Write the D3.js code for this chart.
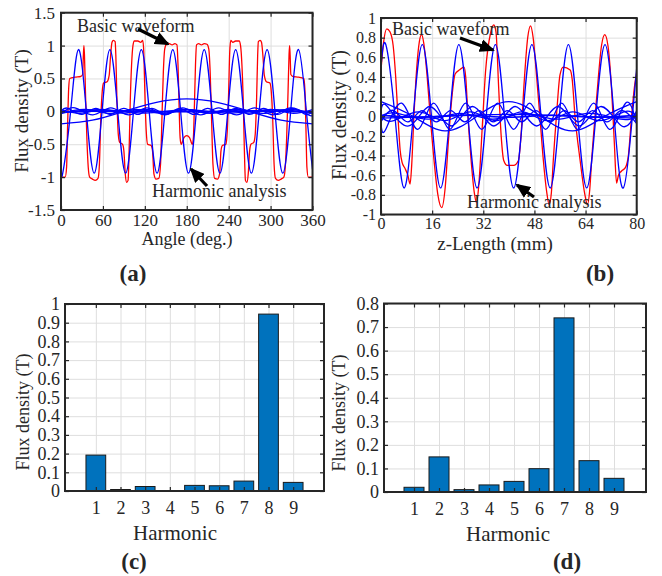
<!DOCTYPE html>
<html>
<head>
<meta charset="utf-8">
<script src="https://cdn.jsdelivr.net/npm/d3@7"></script>
<style>
body { margin: 0; background: #fff; }
text { font-family: "Liberation Serif", "Times New Roman", serif; fill: #262626; }
</style>
</head>
<body>
<svg id="fig" width="662" height="576"></svg>
<script>
// ---- data ----
var angleTicks = [0, 60, 120, 180, 240, 300, 360];
var fluxTicksA = [-1.5, -1, -0.5, 0, 0.5, 1, 1.5];
var zTicks = [0, 16, 32, 48, 64, 80];
var fluxTicksB = [-1, -0.8, -0.6, -0.4, -0.2, 0, 0.2, 0.4, 0.6, 0.8, 1];
var harmonics = [1, 2, 3, 4, 5, 6, 7, 8, 9];
var ampC = [0.192, 0.008, 0.024, 0.001, 0.03, 0.028, 0.053, 0.946, 0.046];
var ampD = [0.02, 0.149, 0.01, 0.03, 0.045, 0.099, 0.739, 0.133, 0.058];
var ticksC = [0, 0.1, 0.2, 0.3, 0.4, 0.5, 0.6, 0.7, 0.8, 0.9, 1];
var ticksD = [0, 0.1, 0.2, 0.3, 0.4, 0.5, 0.6, 0.7, 0.8];

// (a) basic waveform, angle (deg) vs flux density (T)
var redA = [[0,-1.0],[6,-1.0],[8,-0.85],[9.5,-0.2],[11,0.35],[12.5,0.5],[20,0.52],[28,0.53],[31,0.56],[32,0.85],[32.8,1.0],[33.6,0.85],[35,0.3],[37,-0.4],[39,-0.85],[41,-1.0],
  [45,-1.03],[49,-1.05],[53,-1.02],[55,-0.8],[57,-0.1],[59,0.3],[61,0.43],[66,0.45],[69,0.55],[71,0.85],[73,1.05],[75,1.08],[77.5,1.06],[78.5,0.85],[80,0.2],[82,-0.35],[84,-0.47],
  [88,-0.5],[90,-0.6],[92,-0.95],[94,-1.08],[96,-1.05],[97.5,-0.6],[99,0.1],[101,0.7],[103,1.0],[105,1.07],[110,1.07],[114,1.05],[117,1.08],[118.5,0.9],[120,0.3],[122,-0.3],[124,-0.5],
  [129,-0.52],[131,-0.6],[133,-0.95],[136,-1.03],[140,-1.02],[142.5,-0.8],[144.5,-0.1],[146.5,0.6],[148.5,0.95],[151,1.02],[155,1.03],[159,1.01],[163,1.03],[166,1.01],[167.5,0.7],[169,0.1],[170.5,-0.4],[172,-0.5],[176,-0.4],[180,-0.37],
  [184,-0.4],[188,-0.5],[189.5,-0.4],[191,0.1],[192.5,0.7],[194,1.01],[197,1.03],[201,1.01],[205,1.03],[209,1.02],[211.5,0.95],[213.5,0.6],[215.5,-0.1],[217.5,-0.8],[220,-1.02],[224,-1.03],[227,-0.95],[229,-0.6],[231,-0.52],
  [236,-0.5],[238,-0.3],[240,0.3],[241.5,0.9],[243,1.08],[246,1.05],[250,1.07],[255,1.07],[257,1.0],[259,0.7],[261,0.1],[262.5,-0.6],[264,-1.05],[266,-1.08],[268,-0.95],[270,-0.6],[272,-0.5],
  [276,-0.47],[278,-0.35],[280,0.2],[281.5,0.85],[282.5,1.06],[285,1.08],[287,1.05],[289,0.85],[291,0.55],[294,0.45],[299,0.43],[301,0.3],[303,-0.1],[305,-0.8],[307,-1.02],[311,-1.05],[315,-1.03],
  [319,-1.0],[321,-0.85],[323,-0.4],[325,0.3],[326.4,0.85],[327.2,1.0],[328,0.85],[329,0.56],[332,0.53],[340,0.52],[347.5,0.5],[349,0.35],[350.5,-0.2],[352,-0.85],[354,-1.0],[360,-1.0]];

// (a) harmonic components
var blueA8 = [[0,-0.88],[2.5,-0.94],[13.75,0],[25,0.94],[36.25,0],[47.5,-0.94],[58.75,0],[70,0.94],[81.25,0],[92.5,-0.94],[103.75,0],[115,0.94],[126.25,0],[137.5,-0.94],[148.75,0],[160,0.94],[171.25,0],
  [182.5,-0.94],[193.75,0],[205,0.94],[216.25,0],[227.5,-0.94],[238.75,0],[250,0.94],[261.25,0],[272.5,-0.94],[283.75,0],[295,0.94],[306.25,0],[317.5,-0.94],[328.75,0],[340,0.94],[351.25,0],[360,-0.88]];
var blueA1 = [[0,-0.19],[45,-0.134],[90,0],[135,0.134],[180,0.19],[225,0.134],[270,0],[315,-0.134],[360,-0.19]];
var blueA9 = [[0,0],[10,0.046],[30,-0.046],[50,0.046],[70,-0.046],[90,0.046],[110,-0.046],[130,0.046],[150,-0.046],[170,0.046],[190,-0.046],[210,0.046],[230,-0.046],[250,0.046],[270,-0.046],[290,0.046],[310,-0.046],[330,0.046],[350,-0.046],[360,0]];
var blueA7 = [[0,-0.041],[20,0.053],[45.7,-0.053],[71.4,0.053],[97.1,-0.053],[122.9,0.053],[148.6,-0.053],[174.3,0.053],[200,-0.053],[225.7,0.053],[251.4,-0.053],[277.1,0.053],[302.9,-0.053],[328.6,0.053],[354.3,-0.053],[360,-0.041]];
var blueA6 = [[0,0.028],[30,-0.028],[60,0.028],[90,-0.028],[120,0.028],[150,-0.028],[180,0.028],[210,-0.028],[240,0.028],[270,-0.028],[300,0.028],[330,-0.028],[360,0.028]];
var blueA5 = [[0,-0.03],[36,0.03],[72,-0.03],[108,0.03],[144,-0.03],[180,0.03],[216,-0.03],[252,0.03],[288,-0.03],[324,0.03],[360,-0.03]];
var blueA3 = [[0,-0.025],[60,0.025],[120,-0.025],[180,0.025],[240,-0.025],[300,0.025],[360,-0.025]];
var blueA2 = [[0,-0.009],[90,0.009],[180,-0.009],[270,0.009],[360,-0.009]];
var blueA4 = [[0,0.001],[360,0.001]];

// (b) basic waveform, z-length (mm) vs flux density (T)
var redB = [[0,0.47],[0.8,0.75],[1.8,0.89],[2.8,0.86],[3.8,0.72],[4.6,0.4],[5.3,0.0],[6.0,-0.35],[6.6,-0.47],[7.5,-0.53],[8.4,-0.6],[9.1,-0.69],[9.6,-0.5],[10.3,0.0],[11.2,0.5],[12.0,0.76],[12.7,0.83],
  [13.4,0.74],[14.4,0.42],[15.4,0.0],[16.6,-0.45],[17.8,-0.8],[19.0,-0.93],[20.1,-0.72],[21.1,-0.25],[22.2,0.2],[23.2,0.43],[24.5,0.47],[26.0,0.5],[26.5,0.4],[27.2,0.0],[28.2,-0.45],[29.2,-0.78],[29.9,-0.88],
  [30.6,-0.7],[31.7,-0.1],[32.7,0.45],[34.3,0.85],[35.3,0.93],[36.0,0.85],[36.8,0.3],[37.6,-0.2],[38.4,-0.45],[39.5,-0.5],[41.5,-0.5],[43.0,-0.45],[43.8,-0.2],[44.8,0.35],[45.9,0.8],[46.8,0.92],
  [47.6,0.8],[48.7,0.4],[49.7,0.0],[50.8,-0.45],[51.8,-0.76],[52.6,-0.9],[53.3,-0.78],[53.9,-0.45],[55.0,0.05],[56.0,0.42],[57.0,0.5],[59.2,0.47],[59.8,0.38],[60.7,0.0],[62.3,-0.45],[63.8,-0.8],
  [64.6,-0.9],[65.3,-0.75],[65.9,-0.45],[67.5,0.2],[69.0,0.72],[70.0,0.83],[71.0,0.72],[72.2,0.24],[73.0,-0.27],[73.7,-0.68],[74.3,-0.6],[75.2,-0.56],[76.5,-0.52],[77.4,-0.4],[78.4,0.0],[79.3,0.3],[80,0.45]];

// (b) harmonic components
var blueB7 = [[0,0.5],[1.5,0.73],[4.36,0],[7.21,-0.73],[10.07,0],[12.93,0.73],[15.79,0],[18.64,-0.73],[21.5,0],[24.36,0.73],[27.21,0],[30.07,-0.73],[32.93,0],[35.79,0.73],[38.64,0],[41.5,-0.73],
  [44.36,0],[47.21,0.73],[50.07,0],[52.93,-0.73],[55.79,0],[58.64,0.73],[61.5,0],[64.36,-0.73],[67.21,0],[70.07,0.73],[72.93,0],[75.79,-0.73],[78.64,0],[80,0.49]];
var blueB2 = [[0,0.149],[10,0],[20,-0.149],[30,0],[40,0.149],[50,0],[60,-0.149],[70,0],[80,0.149]];
var blueB8 = [[0,-0.078],[1.5,-0.133],[6.5,0.133],[11.5,-0.133],[16.5,0.133],[21.5,-0.133],[26.5,0.133],[31.5,-0.133],[36.5,0.133],[41.5,-0.133],[46.5,0.133],[51.5,-0.133],[56.5,0.133],[61.5,-0.133],[66.5,0.133],[71.5,-0.133],[76.5,0.133],[80,-0.078]];
var blueB6 = [[0,0.058],[2,0.099],[8.67,-0.099],[15.33,0.099],[22,-0.099],[28.67,0.099],[35.33,-0.099],[42,0.099],[48.67,-0.099],[55.33,0.099],[62,-0.099],[68.67,0.099],[75.33,-0.099],[80,0.058]];
var blueB9 = [[0,-0.055],[4,0.058],[8.44,-0.058],[12.89,0.058],[17.33,-0.058],[21.78,0.058],[26.22,-0.058],[30.67,0.058],[35.11,-0.058],[39.56,0.058],[44,-0.058],[48.44,0.058],[52.89,-0.058],[57.33,0.058],[61.78,-0.058],[66.22,0.058],[70.67,-0.058],[75.11,0.058],[79.56,-0.058],[80,-0.057]];
var blueB5 = [[0,0],[4,-0.045],[12,0.045],[20,-0.045],[28,0.045],[36,-0.045],[44,0.045],[52,-0.045],[60,0.045],[68,-0.045],[76,0.045],[80,0]];
var blueB4 = [[0,0],[5,0.03],[15,-0.03],[25,0.03],[35,-0.03],[45,0.03],[55,-0.03],[65,0.03],[75,-0.03],[80,0]];
var blueB3 = [[0,0.01],[13.33,-0.01],[26.67,0.01],[40,-0.01],[53.33,0.01],[66.67,-0.01],[80,0.01]];
var blueB1 = [[0,-0.02],[20,0],[40,0.02],[60,0],[80,-0.02]];

// ---- drawing ----
var svg = d3.select("#fig");
svg.append("rect").attr("width", 662).attr("height", 576).attr("fill", "#fff");

var defs = svg.append("defs");
defs.append("marker")
    .attr("id", "head")
    .attr("markerUnits", "userSpaceOnUse")
    .attr("markerWidth", 15).attr("markerHeight", 13)
    .attr("refX", 13).attr("refY", 6.5)
    .attr("orient", "auto")
  .append("path")
    .attr("d", "M0,0 L15,6.5 L0,13 Z")
    .attr("fill", "#000");

var fmt = function(v){ return String(Math.round(v * 10) / 10); };

function makeAxes(p) {
  var x = d3.scaleLinear().domain(p.xd).range([p.l, p.r]);
  var y = d3.scaleLinear().domain(p.yd).range([p.b, p.t]);
  var g = svg.append("g");

  // grid
  var gx = g.append("g").attr("transform", "translate(0," + p.b + ")")
      .call(d3.axisBottom(x).tickValues(p.xt).tickSize(-(p.b - p.t)).tickFormat(""));
  var gy = g.append("g").attr("transform", "translate(" + p.l + ",0)")
      .call(d3.axisLeft(y).tickValues(p.yt).tickSize(-(p.r - p.l)).tickFormat(""));
  [gx, gy].forEach(function(s){
    s.select(".domain").remove();
    s.selectAll("line").attr("stroke", "#dedede").attr("stroke-width", 1);
  });

  var clipId = "clip" + p.id;
  defs.append("clipPath").attr("id", clipId)
    .append("rect").attr("x", p.l).attr("y", p.t).attr("width", p.r - p.l).attr("height", p.b - p.t);
  var plot = g.append("g").attr("clip-path", "url(#" + clipId + ")");
  var over = g.append("g");

  function finish() {
    // ticks on all four sides, pointing inward
    var bottom = over.append("g").attr("transform", "translate(0," + p.b + ")")
        .call(d3.axisBottom(x).tickValues(p.xt).tickSize(-4).tickPadding(p.xpad).tickFormat(p.xf || fmt));
    var left = over.append("g").attr("transform", "translate(" + p.l + ",0)")
        .call(d3.axisLeft(y).tickValues(p.yt).tickSize(-4).tickPadding(p.ypad).tickFormat(fmt));
    var top = over.append("g").attr("transform", "translate(0," + p.t + ")")
        .call(d3.axisTop(x).tickValues(p.xt).tickSize(-4).tickFormat(""));
    var right = over.append("g").attr("transform", "translate(" + p.r + ",0)")
        .call(d3.axisRight(y).tickValues(p.yt).tickSize(-4).tickFormat(""));
    [bottom, left, top, right].forEach(function(s){
      s.select(".domain").remove();
      s.selectAll("line").attr("stroke", "#262626").attr("stroke-width", 1.2);
      s.attr("font-family", null).attr("font-size", null);
      s.selectAll("text").style("font-size", p.tickSize + "px").attr("fill", "#262626");
    });
    over.append("rect")
      .attr("x", p.l).attr("y", p.t).attr("width", p.r - p.l).attr("height", p.b - p.t)
      .attr("fill", "none").attr("stroke", "#262626").attr("stroke-width", 2);

    over.append("text").attr("x", p.xlx).attr("y", p.xly).attr("text-anchor", "middle")
      .style("font-size", p.xls + "px").text(p.xlabel);
    over.append("text").attr("transform", "translate(" + p.ylx + "," + p.yly + ") rotate(-90)")
      .attr("text-anchor", "middle").style("font-size", p.yls + "px").text("Flux density (T)");
    svg.append("text").attr("x", p.tagx).attr("y", p.tagy).attr("text-anchor", "middle")
      .style("font-size", "23px").style("font-weight", "bold").attr("fill", "#000").text(p.tag);
  }
  return {x: x, y: y, plot: plot, over: over, finish: finish};
}

function drawCurve(ax, data, color, curve) {
  var line = d3.line().x(function(d){ return ax.x(d[0]); }).y(function(d){ return ax.y(d[1]); }).curve(curve);
  ax.plot.append("path").datum(data).attr("d", line)
    .attr("fill", "none").attr("stroke", color).attr("stroke-width", 1.3);
}

function annotate(ax, label, tx, ty, p0, p1) {
  ax.over.append("text").attr("x", tx).attr("y", ty).style("font-size", "18px").text(label);
  ax.over.append("line")
    .attr("x1", p0[0]).attr("y1", p0[1]).attr("x2", p1[0]).attr("y2", p1[1])
    .attr("stroke", "#000").attr("stroke-width", 3.2).attr("marker-end", "url(#head)");
}

// (a)
var axA = makeAxes({id: "a", l: 61, r: 312.5, t: 12.7, b: 210, xd: [0, 360], yd: [-1.5, 1.5],
  xt: angleTicks, yt: fluxTicksA, xpad: 4, ypad: 6, tickSize: 17,
  xlabel: "Angle (deg.)", xlx: 187, xly: 245, xls: 18,
  ylx: 28, yly: 111, yls: 19, tag: "(a)", tagx: 133, tagy: 281});
drawCurve(axA, redA, "#ff0000", d3.curveMonotoneX);
[blueA2, blueA3, blueA4, blueA5, blueA6, blueA7, blueA9, blueA1, blueA8].forEach(function(s){
  drawCurve(axA, s, "#0000ff", d3.curveNatural);
});
annotate(axA, "Basic waveform", 77, 32, [138, 29], [168, 44]);
annotate(axA, "Harmonic analysis", 152, 197, [207, 186], [191, 169]);
axA.finish();

// (b)
var axB = makeAxes({id: "b", l: 381, r: 636.7, t: 18, b: 214.5, xd: [0, 80], yd: [-1, 1],
  xt: zTicks, yt: fluxTicksB, xpad: 3, ypad: 5, tickSize: 16,
  xlabel: "z-Length (mm)", xlx: 495, xly: 250, xls: 19,
  ylx: 346, yly: 115, yls: 20, tag: "(b)", tagx: 600, tagy: 281});
drawCurve(axB, redB, "#ff0000", d3.curveMonotoneX);
[blueB1, blueB3, blueB4, blueB5, blueB9, blueB6, blueB8, blueB2, blueB7].forEach(function(s){
  drawCurve(axB, s, "#0000ff", d3.curveNatural);
});
annotate(axB, "Basic waveform", 392, 35, [460, 38], [493, 50]);
annotate(axB, "Harmonic analysis", 467, 208, [534, 197], [517, 185]);
axB.finish();

// bar panels
function barPanel(p, values) {
  var ax = makeAxes(p);
  ax.plot.selectAll("rect.bar").data(values).enter().append("rect")
    .attr("class", "bar")
    .attr("x", function(d, i){ return ax.x(harmonics[i] - 0.4); })
    .attr("width", function(d, i){ return ax.x(harmonics[i] + 0.4) - ax.x(harmonics[i] - 0.4); })
    .attr("y", function(d){ return ax.y(d); })
    .attr("height", function(d){ return ax.y(0) - ax.y(d); })
    .attr("fill", "#0072bd").attr("stroke", "#1a1a1a").attr("stroke-width", 1);
  ax.finish();
}

barPanel({id: "c", l: 65, r: 324, t: 304, b: 491, xd: [-0.25, 10.25], yd: [0, 1],
  xt: harmonics, yt: ticksC, xpad: 10, ypad: 5, tickSize: 18, xf: function(v){ return String(v); },
  xlabel: "Harmonic", xlx: 175, xly: 540, xls: 21,
  ylx: 29, yly: 412, yls: 18, tag: "(c)", tagx: 134, tagy: 569}, ampC);

barPanel({id: "d", l: 384, r: 646, t: 303.5, b: 492, xd: [-0.2, 10.28], yd: [0, 0.8],
  xt: harmonics, yt: ticksD, xpad: 10, ypad: 5, tickSize: 18, xf: function(v){ return String(v); },
  xlabel: "Harmonic", xlx: 508, xly: 541, xls: 21,
  ylx: 345, yly: 413, yls: 18, tag: "(d)", tagx: 567, tagy: 569}, ampD);
</script>
</body>
</html>
